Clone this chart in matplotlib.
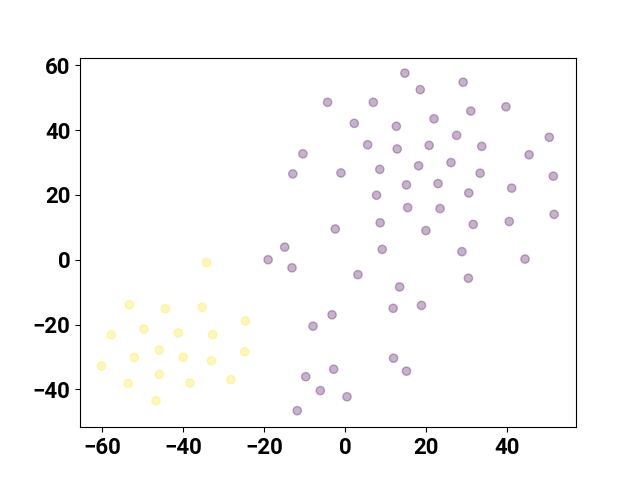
import matplotlib
matplotlib.use("Agg")
import matplotlib.pyplot as plt
import numpy as np

plt.rcParams['font.family'] = ['Roboto', 'DejaVu Sans']
plt.rcParams['font.weight'] = 'bold'
plt.rcParams['font.size'] = 16

# class 0 (purple) points
x0 = [-19.0, -14.9, -13.1, 9.2, 3.2, 13.5, 11.9, 18.9, -3.2, -7.9, 12.0, 15.2, -2.8, -9.7,
      -6.1, 0.5, -11.8, 14.8, 18.6, -4.3, 7.0, 2.3, 12.7, -10.4, 5.6, 12.9, 18.2, -12.9,
      -1.0, 8.6, 15.2, 7.8, 15.5, 8.7, -2.4, 29.2, 39.8, 31.1, 22.0, 27.6, 50.5, 20.8,
      33.8, 45.5, 26.2, 33.4, 51.5, 23.0, 30.6, 41.2, 23.5, 51.7, 20.0, 31.7, 40.6, 28.9,
      44.5, 30.5]
y0 = [0.0, 3.9, -2.5, 3.2, -4.6, -8.4, -15.0, -14.1, -17.0, -20.5, -30.4, -34.4, -33.8, -36.1,
      -40.4, -42.3, -46.6, 57.6, 52.5, 48.6, 48.6, 42.1, 41.2, 32.7, 35.5, 34.2, 29.0, 26.5,
      26.8, 27.9, 23.1, 19.9, 16.1, 11.4, 9.5, 54.8, 47.2, 45.9, 43.5, 38.4, 37.8, 35.3,
      35.0, 32.4, 30.0, 26.7, 25.8, 23.5, 20.6, 22.1, 15.8, 14.0, 9.0, 10.9, 11.8, 2.5,
      0.2, -5.7]
# class 1 (yellow) points
x1 = [-34.2, -53.3, -44.4, -35.3, -24.6, -57.8, -49.7, -41.2, -32.7, -45.9, -24.8, -52.1,
      -40.0, -33.0, -60.2, -45.9, -53.6, -38.3, -28.2, -46.7]
y1 = [-0.9, -13.9, -15.1, -14.7, -18.9, -23.2, -21.4, -22.6, -23.1, -27.9, -28.4, -30.2,
      -30.1, -31.2, -32.8, -35.4, -38.2, -38.1, -37.0, -43.5]

xs = np.array(x0 + x1)
ys = np.array(y0 + y1)
labels = np.array([0] * len(x0) + [1] * len(x1))

fig, ax = plt.subplots(figsize=(6.4, 4.8), dpi=100)
ax.scatter(xs, ys, c=labels, cmap='viridis', alpha=0.3)
ax.set_xlim(-65.5, 57.1)
ax.set_ylim(-51.7, 62.4)
fig.savefig('out.png')
